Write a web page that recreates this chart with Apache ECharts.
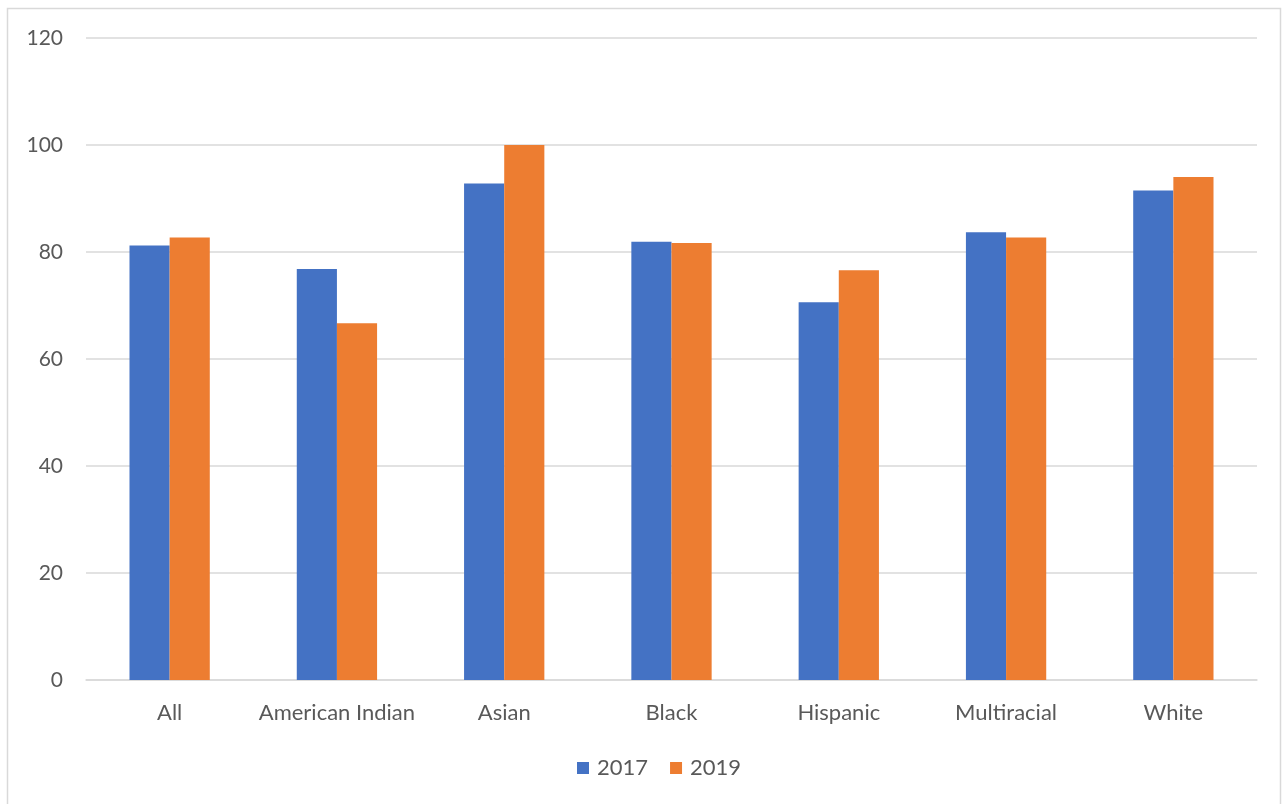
<!DOCTYPE html>
<html>
<head>
<meta charset="utf-8">
<script src="https://cdn.jsdelivr.net/npm/echarts@6/dist/echarts.min.js"></script>
<style>
  html, body { margin: 0; padding: 0; background: #ffffff; }
  #chart { width: 1288px; height: 804px; }
</style>
</head>
<body>
<div id="chart"></div>
<script>
// Groups along the x axis
const categories = ['All', 'American Indian', 'Asian', 'Black', 'Hispanic', 'Multiracial', 'White'];
// Values per year
const values2017 = [81.2, 76.8, 92.8, 81.9, 70.6, 83.7, 91.5];
const values2019 = [82.7, 66.7, 100, 81.7, 76.6, 82.7, 94.0];
const seriesNames = ['2017', '2019'];
// Value axis ticks
const yTicks = [0, 20, 40, 60, 80, 100, 120];

const textColor = '#595959';
const fontFamily = 'Lato, "Open Sans", sans-serif';

const chart = echarts.init(document.getElementById('chart'), null, { renderer: 'canvas' });
chart.setOption({
  backgroundColor: '#ffffff',
  animation: false,
  graphic: [{
    type: 'rect',
    shape: { x: 7.5, y: 8.5, width: 1273, height: 800 },
    style: { fill: 'none', stroke: '#d9d9d9', lineWidth: 1.5 },
    silent: true
  }],
  grid: { left: 86, right: 31, top: 38, bottom: 124 },
  legend: {
    data: seriesNames,
    bottom: 20,
    left: 572,
    itemWidth: 12,
    itemHeight: 12,
    itemGap: 22,
    icon: 'rect',
    textStyle: { color: textColor, fontSize: 22, fontFamily: fontFamily, padding: [0, 0, 0, 3] }
  },
  xAxis: {
    type: 'category',
    data: categories,
    axisLine: { show: true, lineStyle: { color: '#d9d9d9', width: 1.5 } },
    axisTick: { show: false },
    axisLabel: { color: textColor, fontSize: 22, fontFamily: fontFamily, margin: 22, interval: 0 }
  },
  yAxis: {
    type: 'value',
    min: yTicks[0],
    max: yTicks[yTicks.length - 1],
    interval: yTicks[1] - yTicks[0],
    axisLine: { show: false },
    axisTick: { show: false },
    axisLabel: { color: textColor, fontSize: 21, fontFamily: fontFamily, margin: 23 },
    splitLine: { lineStyle: { color: '#d9d9d9', width: 1.5 } }
  },
  series: [
    {
      name: seriesNames[0],
      type: 'bar',
      data: values2017,
      barGap: '0%',
      barCategoryGap: '52%',
      itemStyle: { color: '#4472C4' }
    },
    {
      name: seriesNames[1],
      type: 'bar',
      data: values2019,
      barGap: '0%',
      barCategoryGap: '52%',
      itemStyle: { color: '#ED7D31' }
    }
  ]
});
</script>
</body>
</html>
